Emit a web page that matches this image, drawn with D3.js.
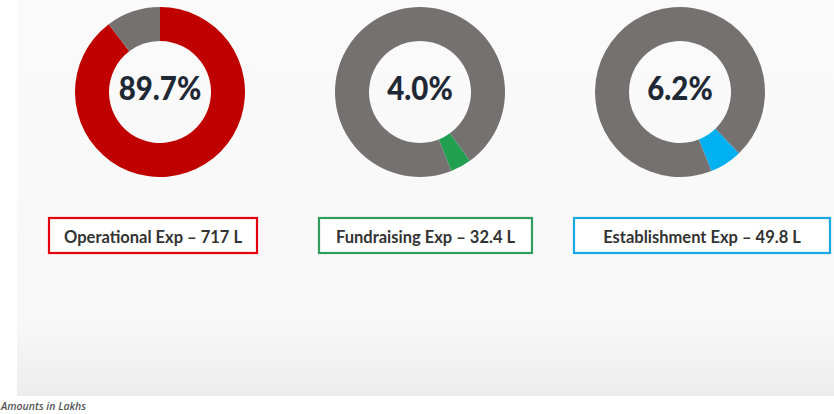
<!DOCTYPE html>
<html>
<head>
<meta charset="utf-8">
<script src="https://cdn.jsdelivr.net/npm/d3@7"></script>
<style>
  html,body{margin:0;padding:0;background:#fff;}
  svg{display:block;}
</style>
</head>
<body>
<div id="chart"></div>
<script>
// expense split (share of total, %) and amounts in lakhs
var categories=["Operational Exp","Fundraising Exp","Establishment Exp"];
var shares=[89.7,4.0,6.2];
var amounts=["717","32.4","49.8"];
var colors=["#c00000","#20a050","#00b0f0"];
var borders=["#e3000f","#2f9e5e","#1aa8e2"];
var restColor="#767171";

var W=834,H=414;
var svg=d3.select("#chart").append("svg").attr("width",W).attr("height",H);

// slide-like backdrop
var defs=svg.append("defs");
var grad=defs.append("linearGradient").attr("id","bg").attr("x1",0).attr("y1",0).attr("x2",0).attr("y2",1);
grad.append("stop").attr("offset","0%").attr("stop-color","#fafafa");
grad.append("stop").attr("offset","80%").attr("stop-color","#f8f8f8");
grad.append("stop").attr("offset","100%").attr("stop-color","#ededed");
svg.append("rect").attr("x",17).attr("y",0).attr("width",W-17).attr("height",396).attr("fill","url(#bg)");

var x=d3.scalePoint().domain(categories).range([160,680]);
var cy=92, rOut=85, rIn=51;
var rot=[0,144,136]; // first-slice angle of each donut, degrees

var arc=d3.arc().innerRadius(rIn).outerRadius(rOut);

categories.forEach(function(c,i){
    var pie=d3.pie().sort(null).value(function(d){return d.v;})
        .startAngle(rot[i]*Math.PI/180).endAngle(rot[i]*Math.PI/180+2*Math.PI);
    var slices=pie([{v:shares[i],fill:colors[i]},{v:100-shares[i],fill:restColor}]);
    var g=svg.append("g").attr("transform","translate("+x(c)+","+cy+")");
    g.selectAll("path").data(slices).enter().append("path")
        .attr("d",arc).attr("fill",function(d){return d.data.fill;});
    g.append("text").attr("text-anchor","middle").attr("y",8)
        .attr("transform","scale(0.92,1)")
        .style("font-family","Lato, 'Open Sans', sans-serif").style("font-weight","900")
        .style("font-size","32px").attr("fill","#1f2835")
        .text(shares[i].toFixed(1)+"%");
});

// labelled boxes under each donut
var boxes=[{x:48,w:210},{x:318,w:215},{x:573,w:258}];
boxes.forEach(function(b,i){
    svg.append("rect").attr("x",b.x+1).attr("y",218).attr("width",b.w-2).attr("height",35)
        .attr("fill","#fff").attr("stroke",borders[i]).attr("stroke-width",2.2);
    svg.append("text").attr("x",b.x+b.w/2).attr("y",243).attr("text-anchor","middle")
        .style("font-family","Lato, 'Open Sans', sans-serif").style("font-weight","700")
        .style("font-size","16.5px").attr("fill","#333")
        .text(categories[i]+" \u2013 "+amounts[i]+" L");
});

svg.append("text").attr("x",1).attr("y",410)
    .style("font-family","'Open Sans', sans-serif").style("font-style","italic").style("font-weight","600")
    .style("font-size","10.5px").attr("fill","#555")
    .text("Amounts in Lakhs");
</script>
</body>
</html>
